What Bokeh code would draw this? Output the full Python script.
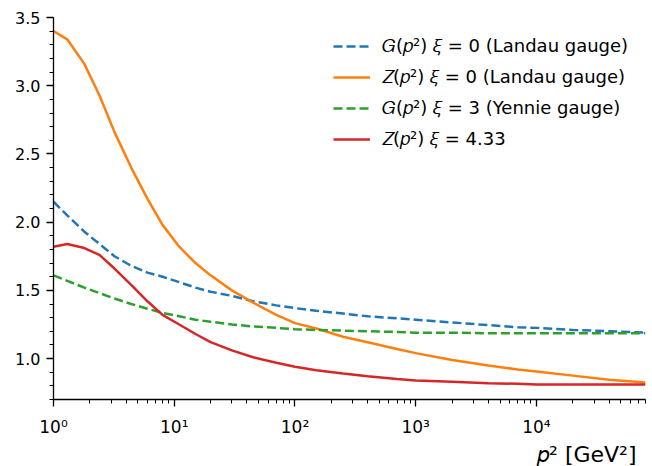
from bokeh.plotting import figure
from bokeh.models import FixedTicker, Legend, LegendItem, Title, Range1d
from bokeh.embed import file_html
from bokeh.resources import INLINE

# ---- data ----
p2 = [1, 1.3, 1.8, 2.4, 3.2, 4.4, 6, 8, 11, 15, 20, 30, 45, 70, 100, 150, 250,
      400, 700, 1000, 2000, 4000, 7000, 10000, 20000, 40000, 80000]
G_landau = [2.15, 2.05, 1.93, 1.84, 1.75, 1.68, 1.63, 1.60, 1.56, 1.52, 1.49, 1.46,
            1.42, 1.39, 1.37, 1.35, 1.33, 1.31, 1.295, 1.285, 1.265, 1.245, 1.23,
            1.225, 1.21, 1.20, 1.19]
Z_landau = [3.40, 3.34, 3.16, 2.93, 2.66, 2.40, 2.17, 1.98, 1.82, 1.70, 1.61, 1.50,
            1.41, 1.32, 1.26, 1.22, 1.16, 1.12, 1.07, 1.04, 0.99, 0.95, 0.92,
            0.905, 0.875, 0.845, 0.825]
G_yennie = [1.61, 1.57, 1.52, 1.48, 1.44, 1.40, 1.365, 1.335, 1.31, 1.285, 1.27,
            1.25, 1.235, 1.225, 1.215, 1.21, 1.205, 1.20, 1.195, 1.19, 1.19, 1.185,
            1.185, 1.185, 1.185, 1.185, 1.185]
Z_433 = [1.82, 1.84, 1.81, 1.76, 1.66, 1.54, 1.42, 1.32, 1.25, 1.18, 1.12, 1.06,
         1.01, 0.97, 0.94, 0.915, 0.89, 0.87, 0.85, 0.84, 0.83, 0.82, 0.815, 0.81,
         0.81, 0.81, 0.81]

series_labels = ["𝐺(𝑝²) 𝜉 = 0 (Landau gauge)",
                 "𝑍(𝑝²) 𝜉 = 0 (Landau gauge)",
                 "𝐺(𝑝²) 𝜉 = 3 (Yennie gauge)",
                 "𝑍(𝑝²) 𝜉 = 4.33"]
x_label = "𝑝² [GeV²]"
x_major = [1, 10, 100, 1000, 10000]
x_major_labels = ["10⁰", "10¹", "10²", "10³", "10⁴"]
y_major = [1.0, 1.5, 2.0, 2.5, 3.0, 3.5]
y_major_labels = ["1.0", "1.5", "2.0", "2.5", "3.0", "3.5"]

FONT = "DejaVu Sans"

p = figure(width=646, height=466, x_axis_type="log",
           x_range=Range1d(1, 8e4), y_range=Range1d(0.7, 3.5),
           output_backend="svg", toolbar_location=None,
           min_border_left=53, min_border_right=1,
           min_border_top=17, min_border_bottom=64)
p.outline_line_color = None
p.xgrid.visible = False
p.ygrid.visible = False
p.background_fill_color = "white"

x_minor = [k * 10 ** n for n in range(0, 5) for k in range(2, 10) if k * 10 ** n <= 8e4]
y_minor = [round(0.7 + 0.1 * i, 1) for i in range(29)]
p.xaxis.ticker = FixedTicker(ticks=x_major, minor_ticks=x_minor)
p.yaxis.ticker = FixedTicker(ticks=y_major, minor_ticks=y_minor)
p.xaxis.major_label_overrides = {t: l for t, l in zip(x_major, x_major_labels)}
p.yaxis.major_label_overrides = {t: l for t, l in zip(y_major, y_major_labels)}

for ax in (p.xaxis[0], p.yaxis[0]):
    ax.axis_line_color = "black"
    ax.axis_line_width = 1.3
    ax.major_tick_line_color = "black"
    ax.minor_tick_line_color = "black"
    ax.major_tick_line_width = 1.3
    ax.minor_tick_line_width = 1.0
    ax.major_tick_out = 7
    ax.major_tick_in = 0
    ax.minor_tick_out = 4
    ax.minor_tick_in = 0
    ax.major_label_text_font = FONT
    ax.major_label_text_font_size = "16px"
    ax.major_label_text_color = "black"
    ax.major_label_standoff = 6
p.xaxis[0].major_label_standoff = 10
p.xaxis[0].major_label_text_font_size = "17px"

colors = ["#1f77b4", "#ff7f0e", "#2ca02c", "#d62728"]
dashes = ["9 4", "solid", "9 4", "solid"]
ys = [G_landau, Z_landau, G_yennie, Z_433]
renderers = []
for y, c, d in zip(ys, colors, dashes):
    r = p.line(p2, y, line_color=c, line_width=2.5, line_dash=d)
    renderers.append(r)

legend = Legend(items=[LegendItem(label=l, renderers=[r]) for l, r in zip(series_labels, renderers)],
                location=(280, 249), border_line_color=None, background_fill_alpha=0,
                label_text_font=FONT, label_text_font_size="18px", label_text_color="black",
                glyph_width=37, glyph_height=20, label_height=20,
                spacing=9, label_standoff=12, padding=10, margin=0)
p.add_layout(legend)

p.add_layout(Title(text=x_label, align="right", offset=9, standoff=0,
                   text_font=FONT, text_font_size="22px", text_font_style="normal",
                   text_color="black"), "below")

open("out.html", "w").write(file_html(p, INLINE))
